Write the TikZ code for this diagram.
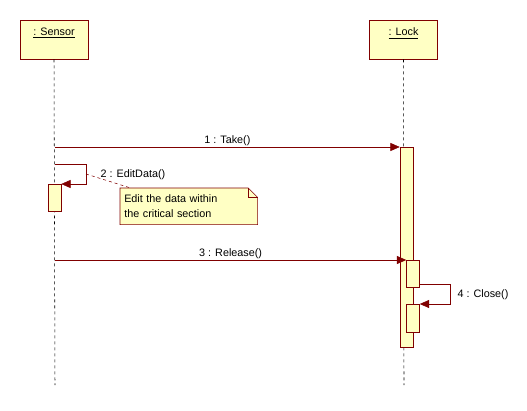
\documentclass[tikz,border=0pt]{standalone}
\usepackage{fontspec}
\setmainfont{Liberation Sans}
\usetikzlibrary{arrows.meta,backgrounds}
\definecolor{umlred}{RGB}{128,0,0}
\definecolor{umlfill}{RGB}{255,255,196}
\begin{document}
\begin{tikzpicture}[x=0.75pt,y=-0.75pt,
	objbox/.style={draw=umlred,fill=umlfill,minimum width=51pt,minimum height=29.25pt,inner sep=0pt},
	actbox/.style={draw=umlred,fill=umlfill,minimum width=9.75pt,inner sep=0pt,anchor=north},
	msg/.style={draw=umlred,-{Triangle[length=7pt,width=6pt]}},
	lifeline/.style={dashed,dash pattern=on 2.25pt off 2.25pt,thin},
	txt/.style={font=\fontsize{8.1}{10}\selectfont,inner sep=1pt}]
	\useasboundingbox (0,0) rectangle (527,410);
	% objects
	\node[objbox] (sensor) at (54,39.5) {};
	\node[objbox] (lock) at (403.5,39.5) {};
	\node[txt,anchor=north] at (sensor.north) [yshift=-5pt] {\underline{: Sensor}};
	\node[txt,anchor=north] at (lock.north) [yshift=-5pt] {\underline{: Lock}};
	\coordinate (sensorend) at (55,385);
	\coordinate (lockend) at (404,385);
	\draw[lifeline] (sensor.south) -- (sensorend);
	\draw[lifeline] (lock.south) -- (lockend);
	% activations
	\node[actbox,minimum height=150pt] (lockact) at (406.5,147) {};
	\node[actbox,minimum height=20.25pt] (lockact2) at (413,260) {};
	\node[actbox,minimum height=21pt] (lockact3) at (413,304) {};
	\node[actbox,minimum height=20.25pt] (sensact) at (54.5,184) {};
	% messages
	\coordinate (take) at (55,147);
	\coordinate (edit) at (55,164);
	\coordinate (release) at (55,260);
	\coordinate (close) at (lockact2.east |- 0,284);
	\draw[msg] (take) -- (lockact.north west) node[midway,above,txt,text=black]{1 : Take()};
	\draw[msg] (edit) -| (86,184) -- (sensact.north east);
	\node[txt,anchor=west] (editlbl) at (99,175) {2 : EditData()};
	\draw[msg] (release) -- (lockact2.north west) node[midway,above,txt,text=black]{3 : Release()};
	\draw[msg] (close) -| (450,304) -- (lockact3.north east);
	\node[txt,anchor=west] (closelbl) at (456,295) {4 : Close()};
	% note
	\node[txt,font=\fontsize{8.1}{11.25}\selectfont,anchor=north west,align=left,text width=96.75pt,minimum height=27pt,inner sep=3pt] (note) at (120,188) {Edit the data within\\the critical section};
	\begin{scope}[on background layer]
		\draw[umlred,fill=umlfill] (note.north west) -- ([xshift=-7pt]note.north east) -- ([yshift=-7pt]note.north east) -- (note.south east) -- (note.south west) -- cycle;
	\end{scope}
	\draw[umlred] ([xshift=-7pt]note.north east) |- ([yshift=-7pt]note.north east);
	\draw[umlred,dashed,dash pattern=on 2.25pt off 2.25pt] (86,174) -- ([xshift=8pt]note.north west);
\end{tikzpicture}
\end{document}
